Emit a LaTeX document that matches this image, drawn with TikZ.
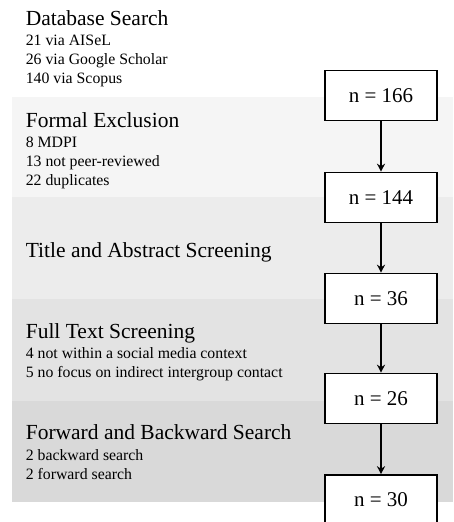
\documentclass[tikz,border=0pt]{standalone}
\usepackage{fontspec}
\setmainfont{Liberation Serif}
\usetikzlibrary{arrows.meta}

\definecolor{bandA}{gray}{0.960}
\definecolor{bandB}{gray}{0.925}
\definecolor{bandC}{gray}{0.890}
\definecolor{bandD}{gray}{0.850}

\begin{document}
\begin{tikzpicture}[x=1pt, y=-1pt, >={Stealth[length=8pt, width=8pt]}, line width=1.6pt,
  every node/.style={inner sep=0pt},
  count/.style={draw, fill=white, minimum width=112pt, minimum height=50pt, font=\fontsize{21}{25}\selectfont},
  phase/.style={anchor=base west, font=\fontsize{21.5}{26}\selectfont},
  detail/.style={anchor=base west, align=left, font=\fontsize{15.8}{18.6}\selectfont}]
  \clip (0,0) rectangle (453,522);
  \useasboundingbox (0,0) rectangle (453,522);
  % shaded stages
  \fill[bandA] (12,97) rectangle (453,197);
  \fill[bandB] (12,197) rectangle (453,299);
  \fill[bandC] (12,299) rectangle (453,401);
  \fill[bandD] (12,401) rectangle (453,502);
  % stage texts (detail lists sit on their last baseline)
  \node[phase] (dbsearch) at (25,25) {Database Search};
  \node[detail] (dblist) at (25,83) {21 via AISeL\\26 via Google Scholar\\140 via Scopus};
  \node[phase] (formal) at (25,127) {Formal Exclusion};
  \node[detail] (formallist) at (25,185) {8 MDPI\\13 not peer-reviewed\\22 duplicates};
  \node[phase] (title) at (25,257) {Title and Abstract Screening};
  \node[phase] (fulltext) at (25,338) {Full Text Screening};
  \node[detail] (fulllist) at (25,377) {4 not within a social media context\\5 no focus on indirect intergroup contact};
  \node[phase] (forward) at (25,439) {Forward and Backward Search};
  \node[detail] (forwardlist) at (25,479) {2 backward search\\2 forward search};
  % counts
  \node[count] (n166) at (381,95.5) {n = 166};
  \node[count] (n144) at (381,197.5) {n = 144};
  \node[count] (n36) at (381,298.5) {n = 36};
  \node[count] (n26) at (381,398.5) {n = 26};
  \node[count] (n30) at (381,500) {n = 30};
  \draw[->] (n166) -- (n144);
  \draw[->] (n144) -- (n36);
  \draw[->] (n36) -- (n26);
  \draw[->] (n26) -- (n30);
\end{tikzpicture}
\end{document}
